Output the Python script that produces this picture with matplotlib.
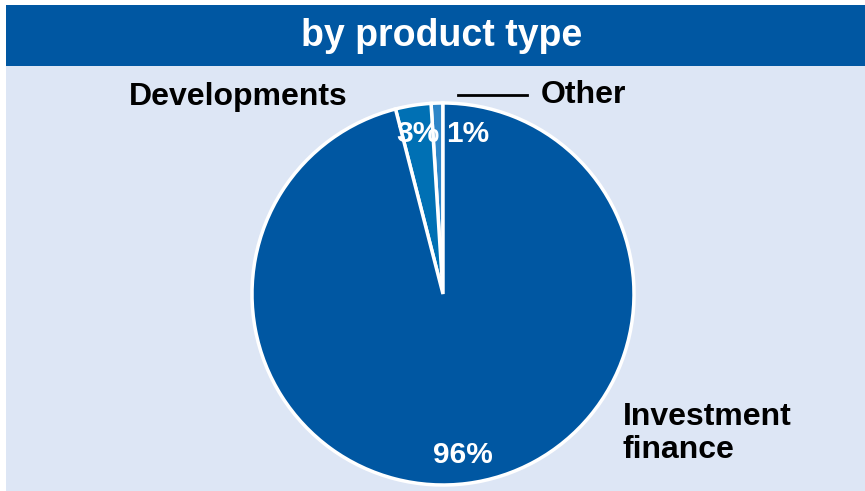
import matplotlib.pyplot as plt
from matplotlib.patches import Rectangle

plt.rcParams['font.family'] = ['Liberation Sans', 'DejaVu Sans']

# slices counter-clockwise from 12 o'clock
categories = ['Other', 'Developments', 'Investment\nfinance']
shares = [1, 3, 96]
colors = ['#2e86c8', '#0070b4', '#0057a2']

title = 'by product type'
W, H = 865, 491

fig = plt.figure(figsize=(W / 100, H / 100), dpi=100)
fig.patch.set_facecolor('white')
# light panel and title bar
fig.patches.append(Rectangle((6 / W, 0), 1, (H - 66) / H, transform=fig.transFigure,
                             facecolor='#dde6f5', edgecolor='none', zorder=-5))
fig.patches.append(Rectangle((6 / W, (H - 66) / H), 1, 61 / H, transform=fig.transFigure,
                             facecolor='#0057a2', edgecolor='none', zorder=-5))
fig.text(442 / W, (H - 36) / H, title, color='white', fontsize=27,
         fontweight='bold', ha='center', va='center')

# pie axes: centre (443, 294) px, radius 191 px
cx, cy, r = 443, 294, 191
ax = fig.add_axes([(cx - r) / W, (H - cy - r) / H, 2 * r / W, 2 * r / H])
ax.set_facecolor('none')
wedges, _, pcts = ax.pie(shares, colors=colors, startangle=90, counterclock=True,
                         autopct='%d%%', pctdistance=0.85,
                         wedgeprops=dict(edgecolor='white', linewidth=2.5),
                         textprops=dict(color='white', fontsize=21.5, fontweight='bold'))
ax.set_xlim(-1, 1)
ax.set_ylim(-1, 1)
ax.axis('off')

# the tiny "1%" sits to the right of its slice
pcts[0].set_position((0.13, 0.84))

lab = dict(fontsize=23, fontweight='bold', color='black')
ax.text(-0.50, 1.03, categories[1], ha='right', va='center', **lab)
ax.text(0.51, 1.04, categories[0], ha='left', va='center', **lab)
ax.plot([0.08, 0.44], [1.04, 1.04], color='black', lw=2, clip_on=False)
ax.text(0.94, -0.73, categories[2], ha='left', va='center', linespacing=1.15, **lab)

fig.savefig('out.png', dpi=100)
